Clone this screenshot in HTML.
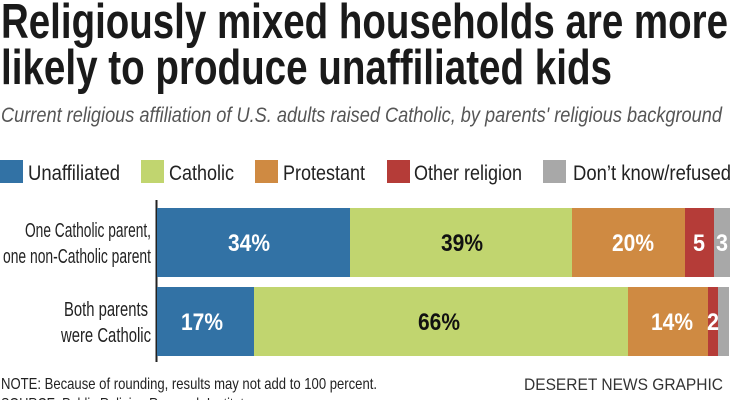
<!DOCTYPE html>
<html><head><meta charset="utf-8"><style>html,body{margin:0;padding:0;background:#fff}svg{display:block}</style></head>
<body>
<svg width="735" height="400" viewBox="0 0 735 400" xmlns="http://www.w3.org/2000/svg" font-family="'Liberation Sans Narrow','Liberation Sans',sans-serif">
<text x="1" y="38" font-size="49" font-weight="bold" fill="#1a1a1a" textLength="727" lengthAdjust="spacingAndGlyphs">Religiously mixed households are more</text>
<text x="1" y="84" font-size="49" font-weight="bold" fill="#1a1a1a" textLength="611" lengthAdjust="spacingAndGlyphs">likely to produce unaffiliated kids</text>
<text x="1" y="122" font-size="21" font-style="italic" fill="#555" textLength="721" lengthAdjust="spacingAndGlyphs">Current religious affiliation of U.S. adults raised Catholic, by parents' religious background</text>
<g font-size="21" fill="#222">
<rect x="0" y="160" width="23" height="23" fill="#3272a5"/><text x="28" y="180" textLength="92" lengthAdjust="spacingAndGlyphs">Unaffiliated</text>
<rect x="141" y="160" width="23" height="23" fill="#c1d56f"/><text x="169" y="180" textLength="65" lengthAdjust="spacingAndGlyphs">Catholic</text>
<rect x="255" y="160" width="23" height="23" fill="#cf8a42"/><text x="283" y="180" textLength="82" lengthAdjust="spacingAndGlyphs">Protestant</text>
<rect x="387" y="160" width="23" height="23" fill="#b53c38"/><text x="414" y="180" textLength="108" lengthAdjust="spacingAndGlyphs">Other religion</text>
<rect x="543" y="160" width="23" height="23" fill="#a8a8a8"/><text x="573" y="180" textLength="158" lengthAdjust="spacingAndGlyphs">Don’t know/refused</text>
</g>
<line x1="156.5" y1="200" x2="156.5" y2="362" stroke="#222" stroke-width="2"/>
<rect x="157" y="208" width="193" height="69" fill="#3272a5"/>
<rect x="350" y="208" width="222" height="69" fill="#c1d56f"/>
<rect x="572" y="208" width="113" height="69" fill="#cf8a42"/>
<rect x="685" y="208" width="29" height="69" fill="#b53c38"/>
<rect x="714" y="208" width="16" height="69" fill="#a8a8a8"/>
<rect x="157" y="287" width="97" height="69" fill="#3272a5"/>
<rect x="254" y="287" width="374" height="69" fill="#c1d56f"/>
<rect x="628" y="287" width="80" height="69" fill="#cf8a42"/>
<rect x="708" y="287" width="10" height="69" fill="#b53c38"/>
<rect x="718" y="287" width="11" height="69" fill="#a8a8a8"/>
<g font-size="24" font-weight="bold">
<text x="228" y="251" fill="#fff" textLength="42" lengthAdjust="spacingAndGlyphs">34%</text>
<text x="441" y="251" fill="#111" textLength="42" lengthAdjust="spacingAndGlyphs">39%</text>
<text x="612" y="251" fill="#fff" textLength="42" lengthAdjust="spacingAndGlyphs">20%</text>
<text x="693" y="251" fill="#fff" textLength="12" lengthAdjust="spacingAndGlyphs">5</text>
<text x="716" y="251" fill="#fff" textLength="12" lengthAdjust="spacingAndGlyphs">3</text>
<text x="181" y="330" fill="#fff" textLength="42" lengthAdjust="spacingAndGlyphs">17%</text>
<text x="418" y="330" fill="#111" textLength="42" lengthAdjust="spacingAndGlyphs">66%</text>
<text x="651" y="330" fill="#fff" textLength="42" lengthAdjust="spacingAndGlyphs">14%</text>
<text x="707" y="330" fill="#fff" textLength="12" lengthAdjust="spacingAndGlyphs">2</text>
</g>
<g font-size="20" fill="#222">
<text x="25" y="237" textLength="126" lengthAdjust="spacingAndGlyphs">One Catholic parent,</text>
<text x="3" y="263" textLength="148" lengthAdjust="spacingAndGlyphs">one non-Catholic parent</text>
<text x="64" y="316" textLength="84" lengthAdjust="spacingAndGlyphs">Both parents</text>
<text x="61" y="342" textLength="90" lengthAdjust="spacingAndGlyphs">were Catholic</text>
</g>
<text x="1" y="389" font-size="16" fill="#222" textLength="376" lengthAdjust="spacingAndGlyphs">NOTE: Because of rounding, results may not add to 100 percent.</text>
<text x="1" y="409" font-size="16" fill="#222" textLength="250" lengthAdjust="spacingAndGlyphs">SOURCE: Public Religion Research Institute</text>
<text x="524" y="390" font-size="17" fill="#333" font-family="'Liberation Sans',sans-serif" textLength="199" lengthAdjust="spacingAndGlyphs">DESERET NEWS GRAPHIC</text>
</svg>
</body></html>
